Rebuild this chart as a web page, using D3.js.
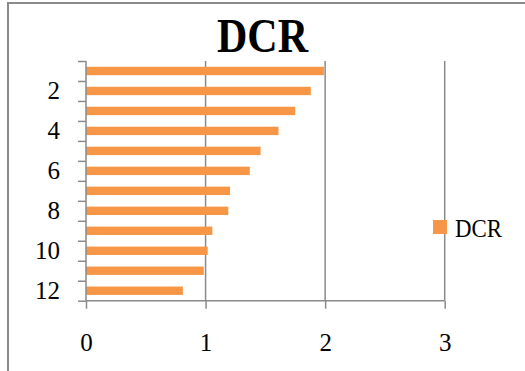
<!DOCTYPE html>
<html>
<head>
<meta charset="utf-8">
<script src="https://cdn.jsdelivr.net/npm/d3@7"></script>
<style>
  html, body { margin: 0; padding: 0; background: #fff; }
  svg { display: block; }
  text { font-family: "Liberation Serif", "Times New Roman", serif; fill: #000; }
</style>
</head>
<body>
<svg id="chart" width="525" height="371"></svg>
<script>
// Categories, top to bottom
const categories = [1, 2, 3, 4, 5, 6, 7, 8, 9, 10, 11, 12];
// DCR value for each category
const dcrValues = [1.99, 1.88, 1.75, 1.61, 1.46, 1.37, 1.205, 1.19, 1.057, 1.018, 0.985, 0.81];
// Value axis ticks
const xTicks = [0, 1, 2, 3];
// Only every second category is labelled
const yLabels = [2, 4, 6, 8, 10, 12];
const seriesName = "DCR";

const svg = d3.select("#chart");
const W = 525, H = 371;
const plot = { left: 86, right: 444.7, top: 61, bottom: 300.7 };
const axisColor = "#8a8a8a";
const barColor = "#F79646";
const labelFont = "'Liberation Serif', serif";

// Frame lines of the chart area (left and top)
svg.append("path")
  .attr("d", `M8,${H} L8,3 L${W},3`)
  .attr("fill", "none")
  .attr("stroke", axisColor)
  .attr("stroke-width", 2);

const x = d3.scaleLinear().domain([0, 3]).range([plot.left, plot.right]);
const y = d3.scaleBand().domain(categories).range([plot.top, plot.bottom])
  .paddingInner(0.58).paddingOuter(0.29);
// Boundary scale for category tick marks
const yEdge = d3.scaleLinear().domain([0, categories.length]).range([plot.top, plot.bottom]);

// Vertical gridlines
svg.append("g")
  .selectAll("line")
  .data(xTicks.filter(d => d > 0))
  .join("line")
  .attr("x1", d => x(d)).attr("x2", d => x(d))
  .attr("y1", plot.top).attr("y2", plot.bottom)
  .attr("stroke", axisColor)
  .attr("stroke-width", 1.5);

// Bars
svg.append("g")
  .selectAll("rect")
  .data(categories.map((c, i) => ({ c, v: dcrValues[i] })))
  .join("rect")
  .attr("x", x(0))
  .attr("y", d => y(d.c))
  .attr("width", d => x(d.v) - x(0))
  .attr("height", y.bandwidth())
  .attr("fill", barColor);

// Category axis: tick marks at band edges
const yTickAxis = d3.axisLeft(yEdge)
  .tickValues(d3.range(0, categories.length + 1))
  .tickSize(8)
  .tickFormat("");
const gyTicks = svg.append("g")
  .attr("transform", `translate(${plot.left},0)`)
  .call(yTickAxis);
gyTicks.select(".domain").remove();
gyTicks.selectAll("line").attr("stroke", axisColor).attr("stroke-width", 1.5);

// Category labels
const yLabelAxis = d3.axisLeft(y)
  .tickValues(yLabels)
  .tickSize(0)
  .tickPadding(26);
const gyLabels = svg.append("g")
  .attr("transform", `translate(${plot.left},0)`)
  .attr("font-size", 25)
  .attr("font-family", labelFont)
  .call(yLabelAxis);
gyLabels.attr("font-size", 25).attr("font-family", labelFont);
gyLabels.select(".domain").remove();
gyLabels.selectAll("text")
  .attr("fill", "#000")
  .attr("dy", "0.34em");

// Category axis line
svg.append("line")
  .attr("x1", plot.left).attr("x2", plot.left)
  .attr("y1", plot.top).attr("y2", plot.bottom)
  .attr("stroke", axisColor).attr("stroke-width", 1.5);

// Value axis
const xAxis = d3.axisBottom(x)
  .tickValues(xTicks)
  .tickSize(8)
  .tickPadding(0)
  .tickFormat(d3.format("d"));
const gx = svg.append("g")
  .attr("transform", `translate(0,${plot.bottom})`)
  .call(xAxis);
gx.attr("font-size", 25).attr("font-family", labelFont);
gx.select(".domain").attr("stroke", axisColor).attr("stroke-width", 1.5)
  .attr("d", `M${plot.left},0H${plot.right}`);
gx.selectAll(".tick line").attr("stroke", axisColor).attr("stroke-width", 1.5);
gx.selectAll(".tick text")
  .attr("fill", "#000")
  .attr("y", 50.5)
  .attr("dy", 0);

// Title
svg.append("text")
  .attr("x", 262.5)
  .attr("y", 52)
  .attr("text-anchor", "middle")
  .attr("textLength", 91)
  .attr("lengthAdjust", "spacingAndGlyphs")
  .style("font-size", "48px")
  .style("font-weight", "bold")
  .text(seriesName);

// Legend
const legend = svg.append("g").attr("transform", "translate(433,220)");
legend.append("rect")
  .attr("width", 14).attr("height", 14)
  .attr("fill", barColor);
legend.append("text")
  .attr("x", 22)
  .attr("y", 16.5)
  .attr("textLength", 47)
  .attr("lengthAdjust", "spacingAndGlyphs")
  .style("font-size", "25px")
  .text(seriesName);
</script>
</body>
</html>
